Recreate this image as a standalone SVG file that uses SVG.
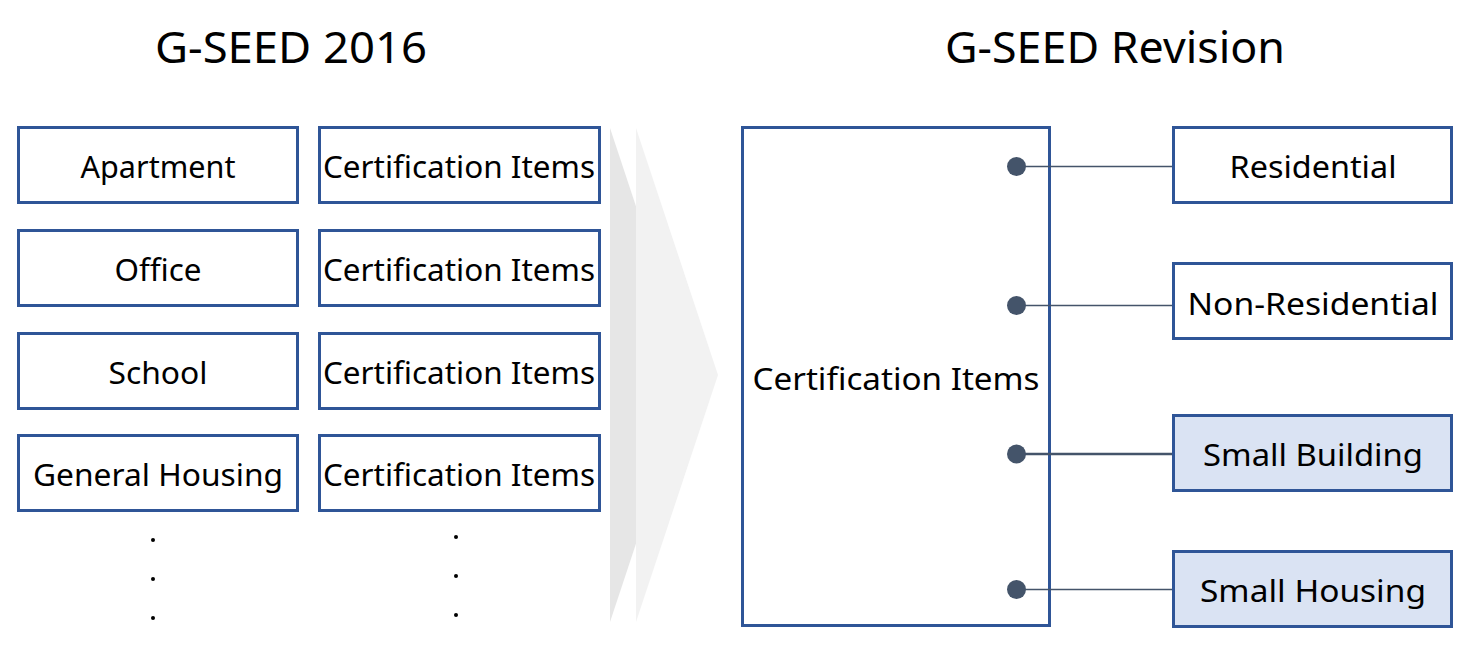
<svg xmlns="http://www.w3.org/2000/svg" width="1474" height="656" viewBox="0 0 1474 656">
<style>
.box{fill:#ffffff;stroke:#2f5597;stroke-width:3}
.hl{fill:#dae3f3;stroke:#2f5597;stroke-width:3}
.t{font-family:"Noto Sans","Open Sans","Liberation Sans",sans-serif;font-size:31px;fill:#000000;text-anchor:middle}
.title{font-family:"Noto Sans","Open Sans","Liberation Sans",sans-serif;font-size:43px;fill:#000000;text-anchor:middle}
.ln{stroke:#44546a;stroke-width:1.3;fill:none}
.dot{fill:#44546a}
.sd{fill:#000000}
</style>
<rect width="1474" height="656" fill="#ffffff"/>
<text class="title" x="291" y="63" textLength="272" lengthAdjust="spacingAndGlyphs">G-SEED 2016</text>
<text class="title" x="1115" y="63" textLength="340" lengthAdjust="spacingAndGlyphs">G-SEED Revision</text>
<g id="arrow">
<polygon points="610,128 692,375 610,622" fill="#e6e6e6"/>
<polygon points="636,128 718,375 636,622" fill="#f2f2f2"/>
</g>
<g id="apartment"><rect class="box" x="18.5" y="127.5" width="279" height="75"/><text class="t" x="158" y="178" textLength="155" lengthAdjust="spacingAndGlyphs">Apartment</text></g>
<g id="office"><rect class="box" x="18.5" y="230.5" width="279" height="75"/><text class="t" x="158" y="281" textLength="87" lengthAdjust="spacingAndGlyphs">Office</text></g>
<g id="school"><rect class="box" x="18.5" y="333.5" width="279" height="75"/><text class="t" x="158" y="384" textLength="99" lengthAdjust="spacingAndGlyphs">School</text></g>
<g id="general-housing"><rect class="box" x="18.5" y="435.5" width="279" height="75"/><text class="t" x="158" y="486" textLength="250" lengthAdjust="spacingAndGlyphs">General Housing</text></g>
<g id="cert1"><rect class="box" x="319.5" y="127.5" width="280" height="75"/><text class="t" x="459" y="178" textLength="272" lengthAdjust="spacingAndGlyphs">Certification Items</text></g>
<g id="cert2"><rect class="box" x="319.5" y="230.5" width="280" height="75"/><text class="t" x="459" y="281" textLength="272" lengthAdjust="spacingAndGlyphs">Certification Items</text></g>
<g id="cert3"><rect class="box" x="319.5" y="333.5" width="280" height="75"/><text class="t" x="459" y="384" textLength="272" lengthAdjust="spacingAndGlyphs">Certification Items</text></g>
<g id="cert4"><rect class="box" x="319.5" y="435.5" width="280" height="75"/><text class="t" x="459" y="486" textLength="272" lengthAdjust="spacingAndGlyphs">Certification Items</text></g>
<g id="ellipsis">
<circle class="sd" cx="153" cy="540" r="2"/><circle class="sd" cx="153" cy="579" r="2"/><circle class="sd" cx="153" cy="618" r="2"/>
<circle class="sd" cx="456" cy="537" r="2"/><circle class="sd" cx="456" cy="576" r="2"/><circle class="sd" cx="456" cy="615" r="2"/>
</g>
<g id="cert-main"><rect class="box" x="742.5" y="127.5" width="307" height="498"/><text class="t" x="896" y="390" textLength="287" lengthAdjust="spacingAndGlyphs">Certification Items</text></g>
<g id="connectors">
<line class="ln" x1="1016" y1="166.5" x2="1173" y2="166.5"/>
<line class="ln" x1="1016" y1="305.5" x2="1173" y2="305.5"/>
<line class="ln" x1="1016" y1="454" x2="1173" y2="454" style="stroke-width:2.4"/>
<line class="ln" x1="1016" y1="589.5" x2="1173" y2="589.5"/>
<circle class="dot" cx="1016.5" cy="166.5" r="9.5"/>
<circle class="dot" cx="1016.5" cy="305.5" r="9.5"/>
<circle class="dot" cx="1016.5" cy="454" r="9.5"/>
<circle class="dot" cx="1016.5" cy="589.5" r="9.5"/>
</g>
<g id="residential"><rect class="box" x="1173.5" y="127.5" width="278" height="75"/><text class="t" x="1313" y="178" textLength="167" lengthAdjust="spacingAndGlyphs">Residential</text></g>
<g id="non-residential"><rect class="box" x="1173.5" y="263.5" width="278" height="75"/><text class="t" x="1313" y="315" textLength="251" lengthAdjust="spacingAndGlyphs">Non-Residential</text></g>
<g id="small-building"><rect class="hl" x="1173.5" y="415.5" width="278" height="75"/><text class="t" x="1313" y="466" textLength="220" lengthAdjust="spacingAndGlyphs">Small Building</text></g>
<g id="small-housing"><rect class="hl" x="1173.5" y="551.5" width="278" height="75"/><text class="t" x="1313" y="602" textLength="226" lengthAdjust="spacingAndGlyphs">Small Housing</text></g>
</svg>
